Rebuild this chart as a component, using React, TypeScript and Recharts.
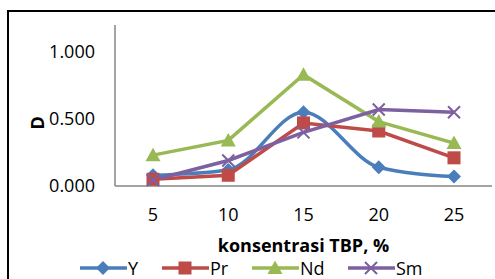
import { CartesianGrid, Line, LineChart, XAxis, YAxis } from "recharts";

const categories = ["5", "10", "15", "20", "25"];
const yValues = [0.08, 0.12, 0.55, 0.14, 0.07];
const prValues = [0.05, 0.08, 0.47, 0.41, 0.21];
const ndValues = [0.23, 0.34, 0.83, 0.48, 0.32];
const smValues = [0.045, 0.19, 0.4, 0.57, 0.55];
const yTicks = [0, 0.5, 1];

const FONT = "'Open Sans', sans-serif";
const AXIS = "#868686";

type Shape = "diamond" | "square" | "triangle" | "cross";

const SERIES: { key: string; name: string; color: string; shape: Shape; smooth: boolean }[] = [
  { key: "y", name: "Y", color: "#4A7EBB", shape: "diamond", smooth: true },
  { key: "pr", name: "Pr", color: "#BE4B48", shape: "square", smooth: false },
  { key: "nd", name: "Nd", color: "#98B954", shape: "triangle", smooth: false },
  { key: "sm", name: "Sm", color: "#7D60A0", shape: "cross", smooth: false },
];

const data = categories.map((c, i) => ({
  x: c,
  y: yValues[i],
  pr: prValues[i],
  nd: ndValues[i],
  sm: smValues[i],
}));

function Marker({ cx, cy, shape, color }: { cx: number; cy: number; shape: Shape; color: string }) {
  if (shape === "diamond") {
    const r = 7;
    return <path d={`M${cx},${cy - r}L${cx + r},${cy}L${cx},${cy + r}L${cx - r},${cy}Z`} fill={color} />;
  }
  if (shape === "square") {
    const r = 6.5;
    return <rect x={cx - r} y={cy - r} width={r * 2} height={r * 2} fill={color} />;
  }
  if (shape === "triangle") {
    const r = 7.5;
    return <path d={`M${cx},${cy - r}L${cx + r},${cy + r * 0.8}L${cx - r},${cy + r * 0.8}Z`} fill={color} />;
  }
  const r = 6;
  return (
    <path
      d={`M${cx - r},${cy - r}L${cx + r},${cy + r}M${cx + r},${cy - r}L${cx - r},${cy + r}`}
      stroke={color}
      strokeWidth={2}
      fill="none"
    />
  );
}

function Legend() {
  const lefts = [80, 162, 252, 348];
  return (
    <svg width={495} height={26} style={{ position: "absolute", left: 0, top: 258, overflow: "visible" }}>
      {SERIES.map((s, i) => {
        const x = lefts[i];
        return (
          <g key={s.key}>
            <line x1={x} x2={x + 47} y1={10} y2={10} stroke={s.color} strokeWidth={3.5} />
            <Marker cx={x + 23} cy={10} shape={s.shape} color={s.color} />
            <text x={x + 48} y={17} fontSize={18} fontFamily={FONT} fill="#000">
              {s.name}
            </text>
          </g>
        );
      })}
    </svg>
  );
}

export default function App() {
  return (
    <div style={{ position: "absolute", left: 0, top: 0, width: 495, height: 279, background: "#fff", overflow: "hidden" }}>
      <div
        style={{
          position: "absolute",
          left: 7,
          top: 10,
          width: 520,
          height: 320,
          border: "2px solid #000",
          boxSizing: "border-box",
        }}
      />
      <LineChart
        width={495}
        height={279}
        data={data}
        margin={{ top: 25, right: 3, left: 0, bottom: 0 }}
        style={{ position: "absolute", left: 0, top: 0 }}
      >
        <CartesianGrid horizontal={false} vertical={false} />
        <XAxis
          dataKey="x"
          height={93}
          padding={{ left: 38, right: 38 }}
          tickSize={0}
          tickMargin={22}
          axisLine={{ stroke: AXIS, strokeWidth: 1.5 }}
          tick={{ fontSize: 18, fill: "#000", fontFamily: FONT }}
          label={{
            value: "konsentrasi TBP, %",
            position: "insideBottom",
            offset: 27,
            fontSize: 18,
            fontWeight: 700,
            fill: "#000",
            fontFamily: FONT,
          }}
        />
        <YAxis
          width={115}
          domain={[0, 1.2]}
          ticks={yTicks}
          tickSize={0}
          tickMargin={20}
          tickFormatter={(v: number) => v.toFixed(3)}
          axisLine={{ stroke: AXIS, strokeWidth: 1.5 }}
          tick={{ fontSize: 18, fill: "#000", fontFamily: FONT }}
          label={{
            value: "D",
            angle: -90,
            position: "insideLeft",
            offset: 38,
            fontSize: 18,
            fontWeight: 700,
            fill: "#000",
            fontFamily: FONT,
            dy: 24,
          }}
        />
        {SERIES.map((s) => (
          <Line
            key={s.key}
            dataKey={s.key}
            name={s.name}
            type={s.smooth ? "monotone" : "linear"}
            stroke={s.color}
            strokeWidth={3.5}
            isAnimationActive={false}
            dot={(p: any) => <Marker key={`${s.key}-${p.index}`} cx={p.cx} cy={p.cy} shape={s.shape} color={s.color} />}
            activeDot={false}
          />
        ))}
      </LineChart>
      <Legend />
    </div>
  );
}
